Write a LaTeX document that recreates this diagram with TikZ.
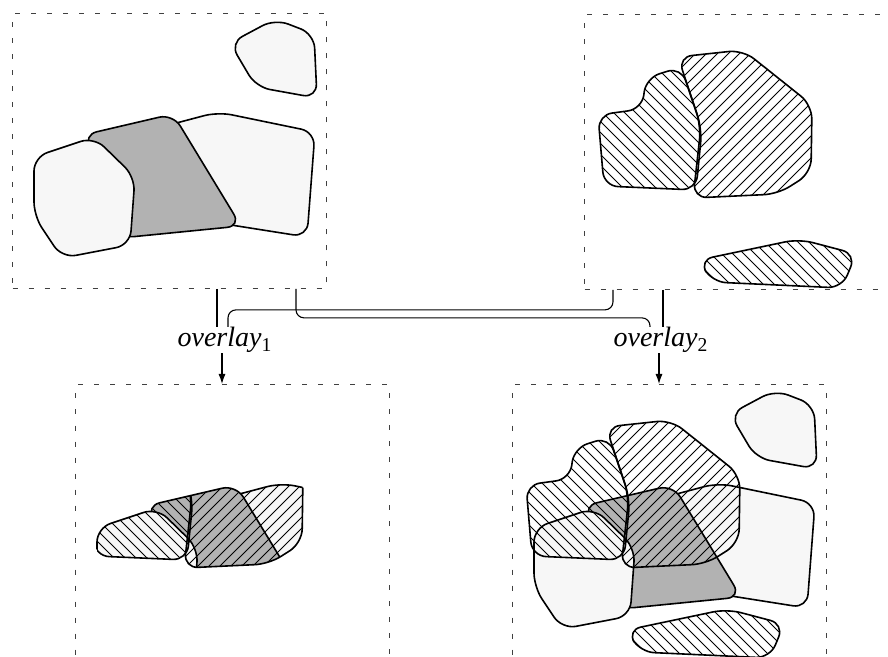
\documentclass[tikz,border=0pt]{standalone}
\usepackage{fontspec}
\setmainfont{Liberation Serif}
\usetikzlibrary{arrows.meta}

\newcommand{\polyS}{(218,30) -- (263,6) -- (302,21) -- (305,85) -- (244,74) -- cycle}
\newcommand{\polyP}{(22,144) -- (82,124) -- (123,164) -- (118,232) -- (50,245) -- (22,203) -- cycle}
\newcommand{\polyG}{(71,122) -- (161,101) -- (229,213) -- (108,225) -- (93,162) -- cycle}
\newcommand{\polyR}{(138,117) -- (206,99) -- (303,119) -- (295,224) -- (200,209) -- (178,167) -- cycle}
\newcommand{\polyLH}{(14,101) -- (58,95) -- (62,64) -- (97,53) -- (118,115) -- (112,176) -- (20,172) -- cycle}
\newcommand{\polyRH}{(94,43) -- (159,36) -- (228,91) -- (227,159) -- (194,180) -- (109,184) -- (117,112) -- cycle}
\newcommand{\polyBS}{(115,246) -- (215,225) -- (272,240) -- (258,274) -- (128,268) -- cycle}
% #1 outline, #2 = 1 for \ lines, -1 for / lines
\newcommand{\hatchfill}[2]{%
    \begin{scope}
        \clip[rounded corners=7pt] #1;
        \foreach \i in {-300,-289,...,610} \draw[hatch] (\i,0) -- ++({#2*290},290);
    \end{scope}
    \path[blob] #1;}

\begin{document}
\begin{tikzpicture}[x=0.5pt,y=-0.5pt,
    every node/.style={font=\fontsize{14}{16}\selectfont\itshape,inner sep=0pt},
    frame/.style={draw=black!75,line width=0.5pt,dash pattern=on 2.5pt off 5.5pt,
        minimum width=157pt,minimum height=137.5pt,anchor=north west},
    blob/.style={draw,line width=0.8pt,rounded corners=7pt},
    pale/.style={blob,fill=black!3},
    dark/.style={blob,fill=black!30},
    hatch/.style={line width=0.45pt},
    link/.style={line width=0.55pt,rounded corners=4pt}]
    \useasboundingbox (0,0) rectangle (888,657);
    \clip (0,0) rectangle (888,657);

    \node[frame] (lay1) at (12,13) {};
    \node[frame] (lay2) at (584,14) {};
    \node[frame] (res1) at (75,384) {};
    \node[frame] (res2) at (512,384) {};
    \node (ov1) at (225,340) {overlay\textsubscript{\upshape 1}};
    \node (ov2) at (661,340) {overlay\textsubscript{\upshape 2}};

    \foreach \b in {lay1,res2} {
        \begin{scope}[shift={(\b.north west)}]
            \path[pale] \polyR; \path[dark] \polyG; \path[pale] \polyP; \path[pale] \polyS;
        \end{scope}}
    \foreach \b in {lay2,res2} {
        \begin{scope}[shift={(\b.north west)}]
            \hatchfill{\polyLH}{1} \hatchfill{\polyRH}{-1} \hatchfill{\polyBS}{1}
        \end{scope}}

    \begin{scope}[shift={(res1.north west)}]
        \begin{scope}
            \clip[rounded corners=7pt] \polyLH \polyRH \polyBS;
            \path[pale] \polyR; \path[dark] \polyG; \path[pale] \polyP; \path[pale] \polyS;
        \end{scope}
        \begin{scope}
            \clip[rounded corners=7pt] \polyR \polyG \polyP \polyS;
            \hatchfill{\polyLH}{1} \hatchfill{\polyRH}{-1} \hatchfill{\polyBS}{1}
        \end{scope}
    \end{scope}

    \draw[link] ([xshift=-4pt]ov1.north |- lay1.south) -- ([xshift=-4pt]ov1.north);
    \draw[link] (lay1.south -| 296,0) |- ([xshift=-5.5pt,yshift=4.5pt]ov2.north) -- ([xshift=-5.5pt]ov2.north);
    \draw[link] (lay2.south -| 613,0) |- ([xshift=1.5pt,yshift=8.5pt]ov1.north) -- ([xshift=1.5pt]ov1.north);
    \draw[link] ([xshift=1pt]ov2.north |- lay2.south) -- ([xshift=1pt]ov2.north);
    \draw[link,-{Latex[length=5pt,width=3.5pt]}] ([xshift=-1.5pt]ov1.south) -- ([xshift=-1.5pt]ov1.south |- res1.north);
    \draw[link,-{Latex[length=5pt,width=3.5pt]}] ([xshift=-1pt]ov2.south) -- ([xshift=-1pt]ov2.south |- res2.north);
\end{tikzpicture}
\end{document}
